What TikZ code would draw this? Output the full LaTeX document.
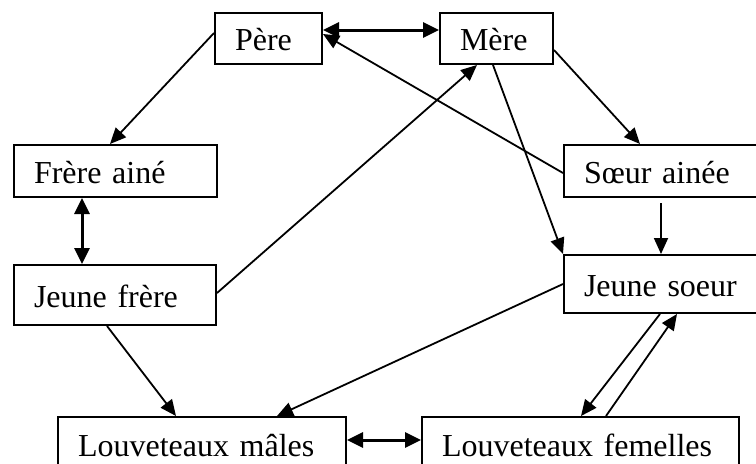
\documentclass[tikz,border=0pt]{standalone}
\usepackage{fontspec}
\setmainfont{Liberation Serif}
\usetikzlibrary{arrows.meta,calc}
\tikzset{
    box/.style={draw,line width=1pt,anchor=north west,inner xsep=10pt,inner ysep=0pt,
        align=left,text height=12pt,text depth=0pt,font=\fontsize{16}{19}\selectfont},
    link/.style={line width=0.9pt,-{Triangle[length=8pt,width=7pt]}},
    both/.style={line width=1.5pt,{Triangle[length=8pt,width=7.5pt]}-{Triangle[length=8pt,width=7.5pt]}},
}

\begin{document}
\begin{tikzpicture}[x=0.5pt,y=-0.5pt]
\useasboundingbox (0,0) rectangle (756,463);
% la famille
\node[box,text width=33.5pt,minimum height=25.5pt] (pere) at (214,12) {Père};
\node[box,text width=36.5pt,minimum height=25.5pt] (mere) at (439,12) {Mère};
\node[box,text width=81.5pt,minimum height=26pt] (frere) at (13,144) {Frère ainé};
\node[box,text width=81pt,minimum height=30pt] (jfrere) at (13,264) {Jeune frère};
\node[box,text width=85pt,minimum height=26pt] (soeur) at (563,144) {Sœur ainée};
\node[box,text width=85pt,minimum height=29pt] (jsoeur) at (563,254) {Jeune soeur};
\node[box,text width=124pt,minimum height=27pt] (males) at (57,416) {Louveteaux mâles};
\node[box,text width=138.5pt,minimum height=27pt] (femelles) at (421,416) {Louveteaux femelles};
% les liens
\draw[both] ($(pere.north east)+(0,18)$) -- ($(mere.north west)+(0,18)$);
\draw[link] ($(soeur.north west)+(0,29)$) -- ($(pere.north east)+(0,22)$);
\draw[link] ($(pere.north west)+(0,21)$) -- ($(frere.north west)+(97,0)$);
\draw[link] ($(jfrere.north east)+(0,29)$) -- ($(mere.south west)+(38,0)$);
\draw[link] ($(mere.north east)+(0,38)$) -- ($(soeur.north west)+(77,0)$);
\draw[link] ($(mere.south west)+(54,0)$) -- (jsoeur.north west);
\draw[link] ($(soeur.south west)+(98,5)$) -- ($(jsoeur.north west)+(98,0)$);
\draw[both] ($(frere.south west)+(69,0)$) -- ($(jfrere.north west)+(69,0)$);
\draw[link] ($(jfrere.south west)+(94,0)$) -- ($(males.north west)+(119,0)$);
\draw[link] ($(jsoeur.north west)+(0,30)$) -- ($(males.north west)+(220,0)$);
\draw[link] ($(jsoeur.south west)+(97,0)$) -- ($(femelles.north west)+(160,0)$);
\draw[link] ($(femelles.north west)+(185,0)$) -- ($(jsoeur.south west)+(114,0)$);
\draw[both] ($(males.north east)+(0,24)$) -- ($(femelles.north west)+(0,24)$);
\end{tikzpicture}
\end{document}
